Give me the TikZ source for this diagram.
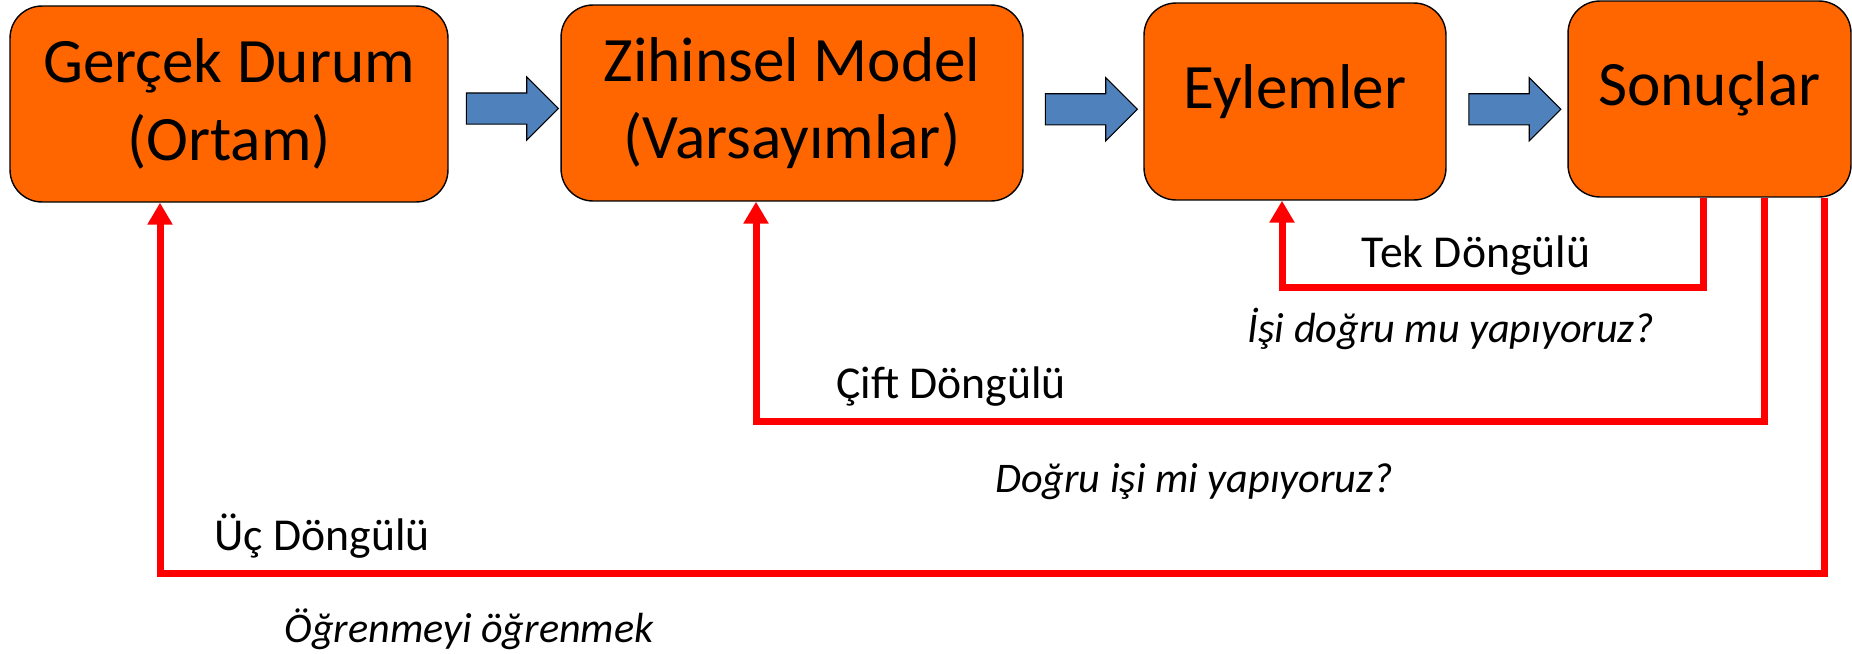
\documentclass[tikz,border=0pt]{standalone}
\usepackage{fontspec}
\setmainfont{Carlito}
\usetikzlibrary{
  arrows.meta,
  calc,
  positioning,
  shapes,
}
\definecolor{stageorange}{HTML}{FF6600}
\definecolor{flowblue}{HTML}{4F81BD}
\definecolor{loopred}{HTML}{FF0000}

\begin{document}
\begin{tikzpicture}[x=0.02cm,y=-0.02cm,
      stage/.style={
        draw=black,
        fill=stageorange,
        rounded corners=0.64cm,
        minimum height=3.92cm,
        inner sep=0pt,
        align=center,
        line width=0.8pt,
        font=\fontsize{36}{44}\selectfont
      },
      oneline/.style={text height=0.88cm,text depth=0.62cm},
      flowarrow/.style={
        single arrow,
        draw=black,
        fill=flowblue,
        line width=0.6pt,
        minimum height=1.84cm,
        minimum width=1.24cm,
        inner sep=0pt,
        text height=0.6cm,
        text depth=0pt,
        single arrow head extend=0.32cm
      },
      loopline/.style={draw=loopred,line width=0.14cm,
        -{Triangle[width=0.48cm,length=0.44cm]}},
      looptext/.style={anchor=base,font=\fontsize{26}{31}\selectfont},
      loopquestion/.style={anchor=base,font=\fontsize{24}{29}\selectfont\itshape}
    ]
      \useasboundingbox (0,0) rectangle (1852,653);

      \node [stage,minimum width=8.76cm] at (229,104) (real) {Gerçek Durum\\(Ortam)};
      \node [stage,minimum width=9.24cm] at (792,103) (model) {Zihinsel Model\\(Varsayımlar)};
      \node [stage,oneline,minimum width=6.04cm,minimum height=3.94cm] at (1295,101.5) (actions) {Eylemler};
      \node [stage,oneline,minimum width=5.66cm] at (1709.5,99) (results) {Sonuçlar};

      \node [flowarrow] at ($(real.east)!0.5!(model.west)+(0,5)$) (flowA) {};
      \node [flowarrow] at ($(model.east)!0.5!(actions.west)+(0,7)$) (flowB) {};
      \node [flowarrow] at ($(actions.east)!0.5!(results.west)+(0,9)$) (flowC) {};

      % feedback loops out of the results box
      \coordinate (tekstart) at (1703,0);
      \coordinate (ciftstart) at (1764,0);
      \coordinate (ucstart) at (1824,0);
      \coordinate (tekturn) at (1282,287);
      \coordinate (ciftturn) at (756,421);
      \coordinate (ucturn) at (160,573);
      \draw [loopline] (results.south -| tekstart) |- (tekturn) -- (actions.south -| tekturn);
      \draw [loopline] (results.south -| ciftstart) |- (ciftturn) -- (model.south -| ciftturn);
      \draw [loopline] (results.south -| ucstart) |- (ucturn) -- (real.south -| ucturn);

      \node [looptext] at (1476,267) (tekL) {Tek Döngülü};
      \node [loopquestion] at (1451,342) (tekQ) {İşi doğru mu yapıyoruz?};
      \node [looptext] at (951,398) (ciftL) {Çift Döngülü};
      \node [loopquestion] at (1194,492) (ciftQ) {Doğru işi mi yapıyoruz?};
      \node [looptext] at (322,550) (ucL) {Üç Döngülü};
      \node [loopquestion] at (469,642) (ucQ) {Öğrenmeyi öğrenmek};
    \end{tikzpicture}
\end{document}
